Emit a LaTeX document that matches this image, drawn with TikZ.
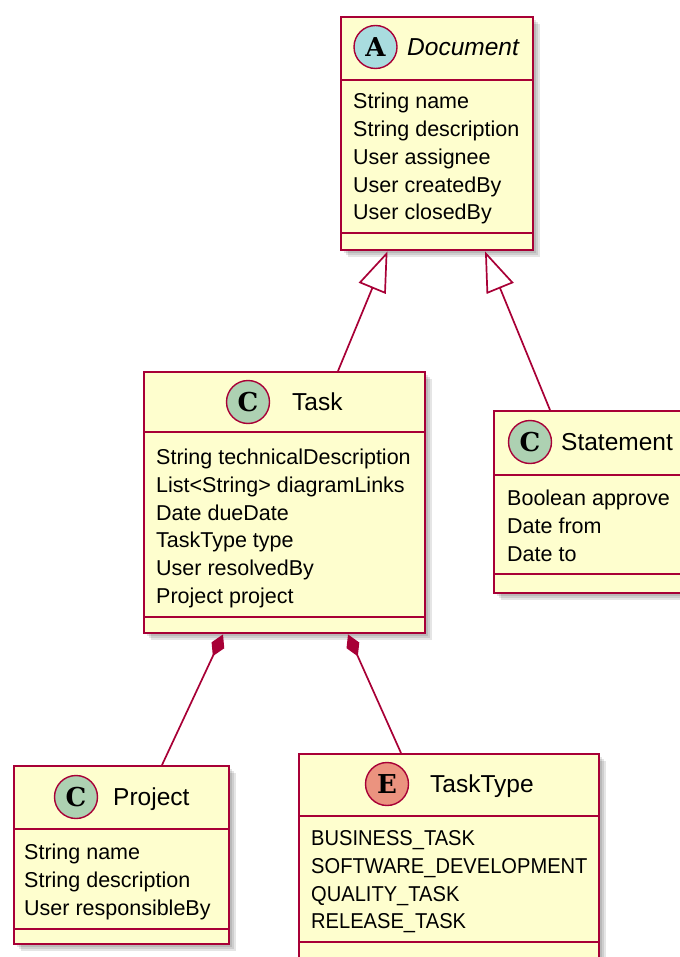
\documentclass[tikz,border=0pt]{standalone}
\usepackage{fontspec}
\usepackage{graphicx}
\setmainfont{Liberation Sans}
\newfontfamily\iconfont{DejaVu Serif}
\usetikzlibrary{arrows.meta,calc,shadows}

\definecolor{umlborder}{HTML}{A80036}
\definecolor{umlfill}{HTML}{FEFECE}
\definecolor{classicon}{HTML}{ADD1B2}
\definecolor{abstracticon}{HTML}{A9DCDF}
\definecolor{enumicon}{HTML}{EB937F}

% enum constants are set a little narrower than the other members
\newcommand{\enumconst}[1]{\scalebox{0.935}[1]{#1}}

\tikzset{
  umlbox/.style={draw=umlborder, fill=umlfill, line width=2.4pt, rectangle,
    anchor=north west, inner sep=0pt,
    general shadow={fill=black, opacity=.10, shadow xshift=3pt, shadow yshift=-3pt},
    general shadow={fill=black, opacity=.10, shadow xshift=5pt, shadow yshift=-5pt},
    general shadow={fill=black, opacity=.10, shadow xshift=7pt, shadow yshift=-7pt}},
  divider/.style={draw=umlborder, line width=2.4pt},
  icon/.style={circle, draw=umlborder, line width=1.4pt, minimum size=43pt,
    inner sep=0pt, font=\iconfont\bfseries\fontsize{26}{26}\selectfont},
  title/.style={anchor=base west, inner sep=0pt, font=\fontsize{24.5}{28}\selectfont},
  member/.style={anchor=base west, inner sep=0pt, font=\fontsize{21.5}{25}\selectfont},
  edge/.style={draw=umlborder, line width=1.7pt},
  extends/.style={edge, -{Triangle[open, length=40pt, width=29pt]}},
  composed/.style={edge, -{Diamond[length=24pt, width=14pt]}}
}

\begin{document}
\begin{tikzpicture}[x=1pt, y=-1pt]
\useasboundingbox (0,0) rectangle (679,957);

% ---- Document (abstract) ----
\node[umlbox, minimum width=192pt, minimum height=233pt] (doc) at (340,16) {};
\draw[divider] (340,80) -- (532,80);
\draw[divider] (340,233) -- (532,233);
\node[icon, fill=abstracticon] (docicon) at (375.5,47) {A};
\node[title, font=\itshape\fontsize{24.5}{28}\selectfont] (doctitle) at (407,55.8) {Document};
\node[member] (doc1) at (353,108.7) {String name};
\node[member] (doc2) at (353,136.5) {String description};
\node[member] (doc3) at (353,164.3) {User assignee};
\node[member] (doc4) at (353,192.1) {User createdBy};
\node[member] (doc5) at (353,219.9) {User closedBy};

% ---- Task ----
\node[umlbox, minimum width=281pt, minimum height=261pt] (task) at (143,371) {};
\draw[divider] (143,432) -- (424,432);
\draw[divider] (143,617) -- (424,617);
\node[icon, fill=classicon] (taskicon) at (248,402) {C};
\node[title] (tasktitle) at (292,410.8) {Task};
\node[member] (task1) at (156,464.7) {String technicalDescription};
\node[member] (task2) at (156,492.4) {List<String> diagramLinks};
\node[member] (task3) at (156,520.1) {Date dueDate};
\node[member] (task4) at (156,547.8) {TaskType type};
\node[member] (task5) at (156,575.5) {User resolvedBy};
\node[member] (task6) at (156,603.2) {Project project};

% ---- Statement ----
\node[umlbox, minimum width=200pt, minimum height=182pt] (stmt) at (493,410) {};
\draw[divider] (493,475) -- (693,475);
\draw[divider] (493,574) -- (693,574);
\node[icon, fill=classicon] (stmticon) at (530,442) {C};
\node[title] (stmttitle) at (561,450.8) {Statement};
\node[member] (stmt1) at (507,505.7) {Boolean approve};
\node[member] (stmt2) at (507,533.4) {Date from};
\node[member] (stmt3) at (507,561.1) {Date to};

% ---- Project ----
\node[umlbox, minimum width=215pt, minimum height=178pt] (proj) at (13,765) {};
\draw[divider] (13,829) -- (228,829);
\draw[divider] (13,929) -- (228,929);
\node[icon, fill=classicon] (projicon) at (76,797) {C};
\node[title] (projtitle) at (113,805.8) {Project};
\node[member] (proj1) at (24,859.7) {String name};
\node[member] (proj2) at (24,887.4) {String description};
\node[member] (proj3) at (24,915.1) {User responsibleBy};

% ---- TaskType (enum) ----
\node[umlbox, minimum width=300pt, minimum height=220pt] (ttype) at (298,753) {};
\draw[divider] (298,816) -- (598,816);
\draw[divider] (298,942) -- (598,942);
\node[icon, fill=enumicon] (ttypeicon) at (387,784) {E};
\node[title] (ttypetitle) at (430,792.8) {TaskType};
\node[member] (ttype1) at (311,845.7) {\enumconst{BUSINESS\_TASK}};
\node[member] (ttype2) at (311,873.4) {\enumconst{SOFTWARE\_DEVELOPMENT}};
\node[member] (ttype3) at (311,901.1) {\enumconst{QUALITY\_TASK}};
\node[member] (ttype4) at (311,928.8) {\enumconst{RELEASE\_TASK}};

% ---- relations ----
\draw[extends] ($(task.north west)+(195pt,0)$) -- ($(doc.south west)+(47.5pt,0)$);
\draw[extends] ($(stmt.north west)+(57pt,0)$) -- ($(doc.south west)+(145pt,0)$);
\draw[composed] ($(proj.north west)+(149pt,0)$) -- ($(task.south west)+(80pt,0)$);
\draw[composed] ($(ttype.north west)+(103pt,0)$) -- ($(task.south west)+(205pt,0)$);
\end{tikzpicture}
\end{document}
